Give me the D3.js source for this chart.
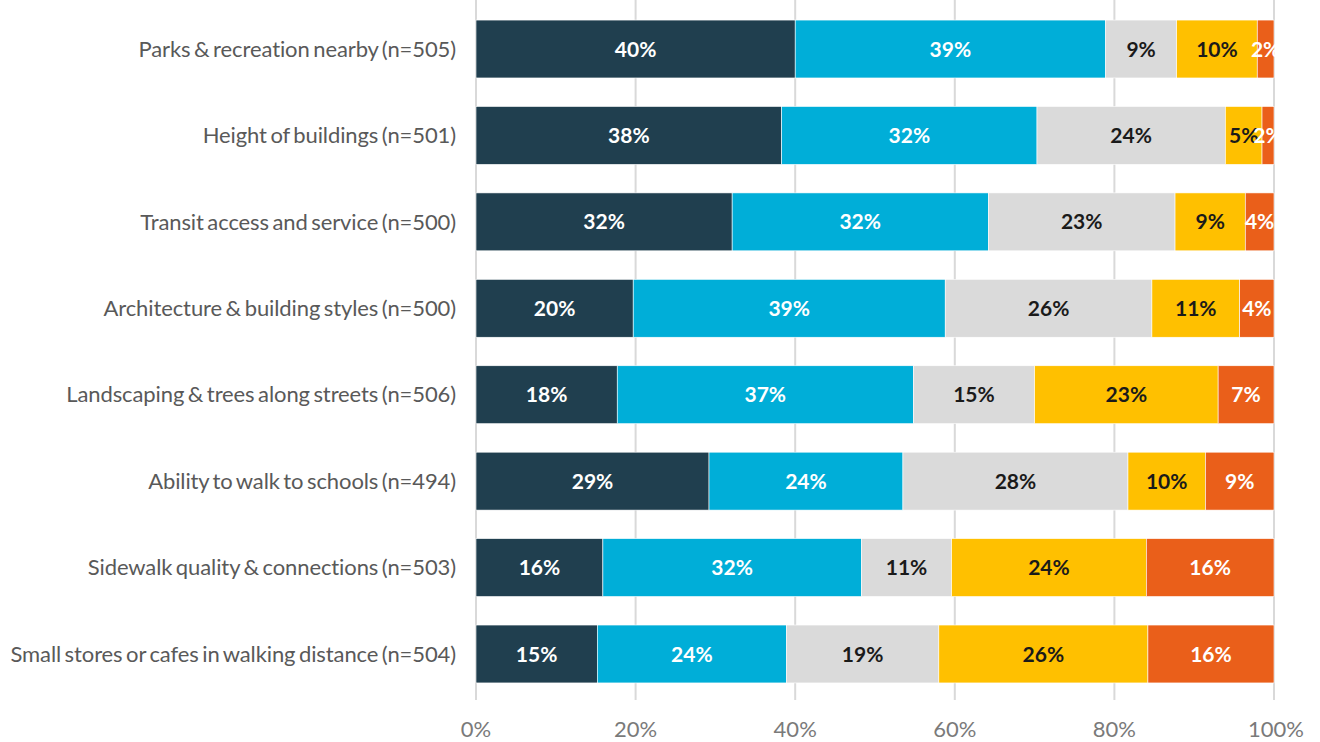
<!DOCTYPE html>
<html>
<head>
<meta charset="utf-8">
<script src="https://cdn.jsdelivr.net/npm/d3@7"></script>
<style>
  html, body { margin: 0; padding: 0; background: #ffffff; }
  svg { display: block; }
</style>
</head>
<body>
<svg id="chart" width="1320" height="742"></svg>
<script>
const categories = [
  "Parks & recreation nearby (n=505)",
  "Height of buildings (n=501)",
  "Transit access and service (n=500)",
  "Architecture & building styles (n=500)",
  "Landscaping & trees along streets (n=506)",
  "Ability to walk to schools (n=494)",
  "Sidewalk quality & connections (n=503)",
  "Small stores or cafes in walking distance (n=504)"
];
const seriesNames = ["s1", "s2", "s3", "s4", "s5"];
const s1 = [40.0, 38.3, 32.1, 19.7, 17.7, 29.2, 15.9, 15.2];
const s2 = [38.9, 32.0, 32.1, 39.1, 37.1, 24.3, 32.4, 23.7];
const s3 = [8.9, 23.6, 23.4, 25.9, 15.2, 28.2, 11.3, 19.1];
const s4 = [10.1, 4.6, 8.8, 11.0, 23.0, 9.7, 24.4, 26.2];
const s5 = [2.1, 1.5, 3.6, 4.3, 7.0, 8.6, 16.0, 15.8];
const tickValues = [0, 20, 40, 60, 80, 100];

const colors = ["#203f4f", "#00aed8", "#dadada", "#ffc000", "#ea5f1a"];
const labelColors = ["#ffffff", "#ffffff", "#1a1a1a", "#1a1a1a", "#ffffff"];

const seriesValues = [s1, s2, s3, s4, s5];
const rows = categories.map((c, i) => {
  const r = { category: c };
  seriesNames.forEach((s, k) => r[s] = seriesValues[k][i]);
  return r;
});
const stacked = d3.stack().keys(seriesNames)(rows);

const svg = d3.select("#chart");
const x = d3.scaleLinear().domain([0, 100]).range([476, 1274]);
const y = d3.scaleBand().domain(categories).range([5.8, 697.2])
  .paddingInner(0.33).paddingOuter(0.165);

// gridlines
svg.append("g").selectAll("line").data(tickValues).join("line")
  .attr("x1", d => x(d)).attr("x2", d => x(d))
  .attr("y1", 0).attr("y2", 700)
  .attr("stroke", "#d9d9d9").attr("stroke-width", 2);

// tick labels
svg.append("g").selectAll("text").data(tickValues).join("text")
  .attr("x", d => x(d) + (d === 100 ? 2 : 0)).attr("y", 737)
  .attr("text-anchor", "middle")
  .attr("font-family", "Lato, sans-serif")
  .attr("font-size", 22)
  .attr("fill", "#7a7a7a")
  .text(d => d + "%");

// category labels
svg.append("g").selectAll("text").data(categories).join("text")
  .attr("x", 456).attr("y", d => y(d) + y.bandwidth() / 2)
  .attr("dy", "0.35em")
  .attr("text-anchor", "end")
  .attr("font-family", "Lato, sans-serif")
  .attr("font-size", 22)
  .attr("letter-spacing", "-0.1px")
  .attr("word-spacing", "-2px")
  .attr("fill", "#595959")
  .text(d => d);

// bars
const layers = svg.append("g").selectAll("g").data(stacked).join("g")
  .attr("fill", (d, i) => colors[i]);
layers.selectAll("rect").data(d => d).join("rect")
  .attr("x", d => x(d[0]))
  .attr("y", d => y(d.data.category))
  .attr("width", d => Math.min(x(d[1]), x(100)) - x(d[0]))
  .attr("height", y.bandwidth())
  .attr("stroke", "#ffffff").attr("stroke-width", 0.6);

// data labels
const lab = svg.append("g").selectAll("g").data(stacked).join("g")
  .attr("fill", (d, i) => labelColors[i]);
lab.selectAll("text").data(d => d).join("text")
  .attr("x", d => (x(d[0]) + Math.min(x(d[1]), x(100))) / 2)
  .attr("y", d => y(d.data.category) + y.bandwidth() / 2)
  .attr("dy", "0.36em")
  .attr("text-anchor", "middle")
  .attr("font-family", "Lato, sans-serif")
  .attr("font-weight", "bold")
  .attr("font-size", 21)
  .text(d => Math.round(d[1] - d[0] + 1e-9) + "%");
</script>
</body>
</html>
